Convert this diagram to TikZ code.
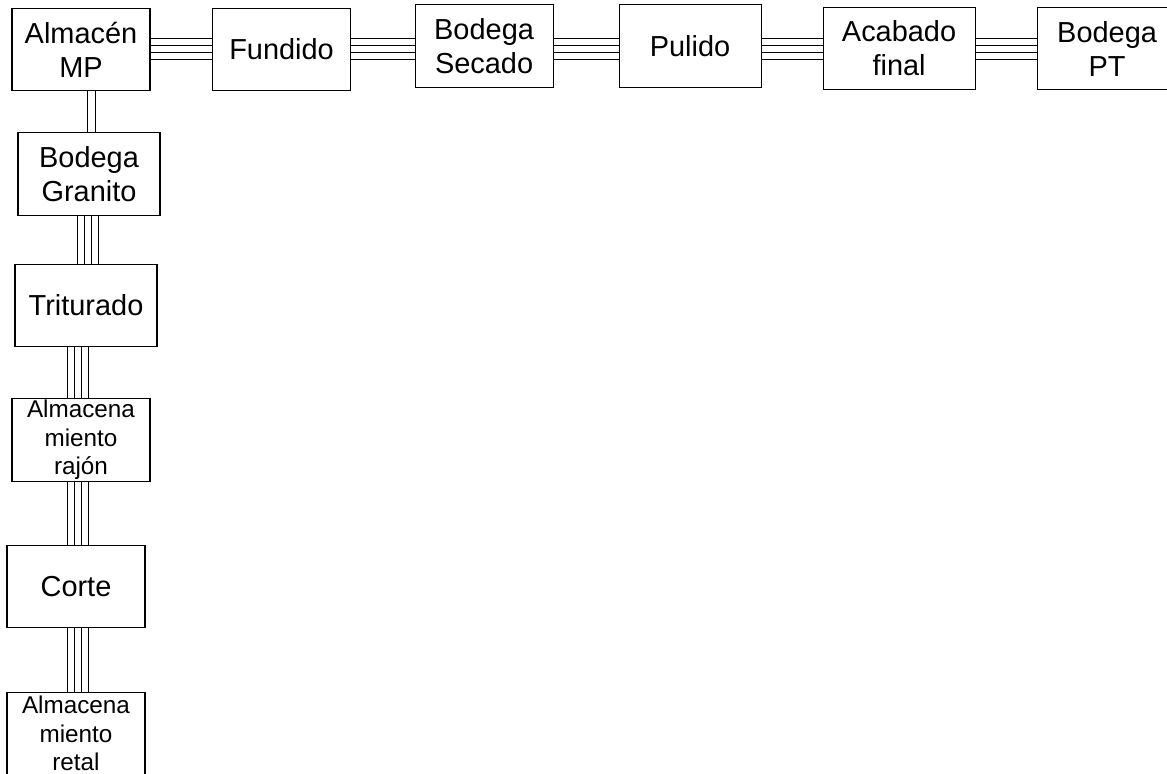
\documentclass[tikz,border=0pt]{standalone}
\usepackage{fontspec}
\setmainfont{Liberation Sans}
\usetikzlibrary{calc}
\begin{document}
\begin{tikzpicture}[node distance=150pt,
        caja/.style={draw, line width=0.85pt, minimum width=103.5pt, minimum height=62pt, inner sep=0pt, align=center, font=\fontsize{21.7}{25.5}\selectfont},
        cajachica/.style={caja, font=\fontsize{18.2}{21.4}\selectfont},
        via/.style={line width=0.75pt}]

        \useasboundingbox (0,0) rectangle (875.25pt,-580.5pt);
        \clip (0,0) rectangle (875.25pt,-580.5pt);

        % Nodos de la linea horizontal
        \node[caja] (amp) at (60.75pt,-37.1pt) {Almacén\\MP};
        \node[caja, right of=amp, node distance=150.4pt] (fun) {Fundido};
        \node[caja, right of=fun, node distance=151.9pt, yshift=2.6pt] (sec) {Bodega\\Secado};
        \node[caja, right of=sec, node distance=154.5pt, minimum width=106.5pt] (pul) {Pulido};
        \node[caja, right of=pul, node distance=156.75pt, yshift=-1.9pt, minimum width=114pt] (aca) {Acabado\\final};
        \node[caja, right of=aca, node distance=156pt, minimum width=105pt] (bpt) {Bodega\\PT};

        % Nodos de la linea vertical
        \node[caja, below of=amp, node distance=93.4pt, xshift=6pt, minimum width=106.5pt] (gra) {Bodega\\Granito};
        \node[caja, below of=gra, node distance=98.6pt, xshift=-2.25pt, minimum width=106.5pt] (tri) {Triturado};
        \node[cajachica, below of=tri, node distance=100.9pt, xshift=-3.75pt] (raj) {Almacena\\miento\\rajón};
        \node[caja, below of=raj, node distance=109.9pt, xshift=-3.75pt] (cor) {Corte};
        \node[cajachica, below of=cor, node distance=110.25pt] (ret) {Almacena\\miento\\retal};

        % Conexiones horizontales (cuatro lineas)
        \foreach \a/\b in {amp/fun, fun/sec, sec/pul, pul/aca, aca/bpt}
            \foreach \s in {-7.875,-2.625,2.625,7.875}
                \draw[via] ($(\a.east |- amp.center)+(0,\s pt)$) -- ($(\b.west |- amp.center)+(0,\s pt)$);

        % Conexion de Almacen MP a Bodega Granito (dos lineas)
        \foreach \s in {4.5,10.5}
            \draw[via] ([xshift=\s pt]amp.south) -- ([xshift=\s pt]amp.south |- gra.north);

        % Conexiones verticales (cuatro lineas)
        \foreach \a/\b/\c in {gra/tri/-1.125, tri/raj/-6.375, raj/cor/-2.625, cor/ret/1.125}
            \foreach \s in {-7.875,-2.625,2.625,7.875}
                \draw[via] ([xshift=\c pt+\s pt]\a.south) -- ([xshift=\c pt+\s pt]\a.south |- \b.north);

    \end{tikzpicture}
\end{document}
